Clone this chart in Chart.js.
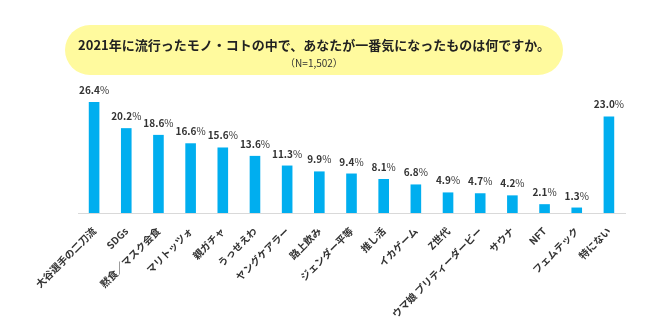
<!DOCTYPE html>
<html>
<head>
<meta charset="utf-8">
<script src="https://cdn.jsdelivr.net/npm/chart.js@4/dist/chart.umd.min.js"></script>
<style>
    body { margin: 0; background: #ffffff; }
    #wrap { position: relative; width: 650px; height: 325px; }
    #titleBox {
        position: absolute; left: 65px; top: 25px; width: 498px; height: 50px;
        background: #fffa9e; border-radius: 25px; text-align: center;
        font-family: "Noto Sans CJK JP", sans-serif; color: #222;
    }
    #titleMain { font-size: 13px; font-weight: bold; margin-top: 12px; line-height: 16px; }
    #titleSub { font-size: 10px; margin-top: 4px; line-height: 12px; color: #333; }
    canvas { position: absolute; left: 0; top: 0; }
</style>
</head>
<body>
<div id="wrap">
    <canvas id="bar-chart" width="650" height="325"></canvas>
    <div id="titleBox">
        <div id="titleMain">2021年に流行ったモノ・コトの中で、あなたが一番気になったものは何ですか。</div>
        <div id="titleSub">（N=1,502）</div>
    </div>
</div>
<script>
// 回答項目
const categories = ['大谷選手の二刀流', 'SDGs', '黙食／マスク会食', 'マリトッツォ', '親ガチャ', 'うっせえわ',
    'ヤングケアラー', '路上飲み', 'ジェンダー平等', '推し活', 'イカゲーム', 'Z世代',
    'ウマ娘 プリティーダービー', 'サウナ', 'NFT', 'フェムテック', '特にない'];
// 割合(%)
const percentValues = [26.4, 20.2, 18.6, 16.6, 15.6, 13.6, 11.3, 9.9, 9.4, 8.1, 6.8, 4.9, 4.7, 4.2, 2.1, 1.3, 23.0];
const yMax = 30;

const barColor = '#00aeef';
const fontFamily = '"Noto Sans CJK JP", "Noto Sans", sans-serif';

// draws "26.4%" above each bar, number bold and % normal
const valueLabels = {
    id: 'valueLabels',
    afterDatasetsDraw(chart) {
        let ctx = chart.ctx;
        let meta = chart.getDatasetMeta(0);
        ctx.save();
        ctx.fillStyle = '#333333';
        ctx.textBaseline = 'alphabetic';
        ctx.textAlign = 'left';
        for (let i = 0; i < meta.data.length; i++) {
            let bar = meta.data[i];
            let num = percentValues[i].toFixed(1);
            ctx.font = 'bold 10px ' + fontFamily;
            let w1 = ctx.measureText(num).width;
            ctx.font = '10px ' + fontFamily;
            let w2 = ctx.measureText('%').width;
            let x = bar.x - (w1 + w2) / 2;
            let y = bar.y - 8;
            ctx.font = 'bold 10px ' + fontFamily;
            ctx.fillText(num, x, y);
            ctx.font = '10px ' + fontFamily;
            ctx.fillText('%', x + w1, y);
        }
        ctx.restore();
    }
};

function getConfig() {
    let config = {
        type: 'bar',
        data: {
            labels: categories,
            datasets: [{
                data: percentValues,
                backgroundColor: barColor,
                barPercentage: 0.33,
                categoryPercentage: 1.0
            }]
        },
        options: {
            responsive: false,
            animation: false,
            layout: { padding: { left: 78, right: 25, top: 87, bottom: 0 } },
            plugins: {
                legend: { display: false },
                tooltip: { enabled: false }
            },
            scales: {
                x: {
                    grid: { display: false, drawTicks: false },
                    border: { color: '#d9d9d9', width: 1 },
                    ticks: {
                        color: '#333333',
                        font: { family: fontFamily, size: 10, weight: 'bold' },
                        minRotation: 45,
                        maxRotation: 45,
                        autoSkip: false,
                        padding: 12
                    },
                    afterFit: function (scale) { scale.height = 112; }
                },
                y: {
                    display: false,
                    min: 0,
                    max: yMax
                }
            }
        },
        plugins: [valueLabels]
    };
    return config;
}

let ctx = document.getElementById('bar-chart').getContext('2d');
window.myBar = new Chart(ctx, getConfig());
</script>
</body>
</html>
